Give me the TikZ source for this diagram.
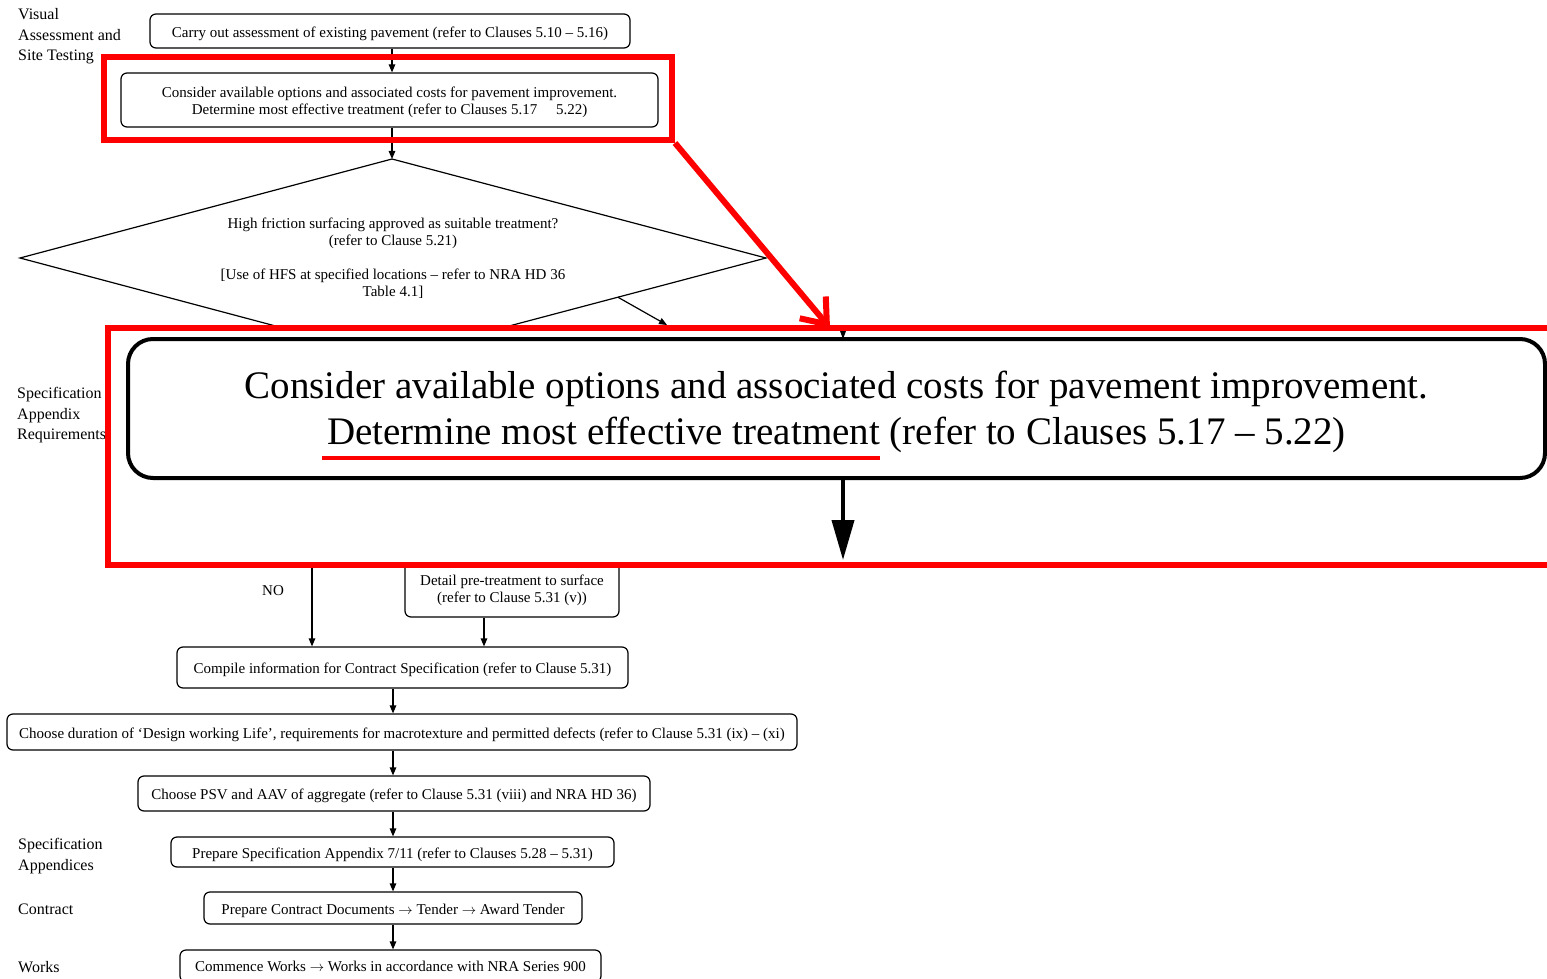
\documentclass[tikz,border=0pt]{standalone}
\usepackage{fontspec}
\setmainfont{Liberation Serif}
\usetikzlibrary{arrows.meta,calc}
\tikzset{
  flowbox/.style={draw, rounded corners=6pt, line width=1.2pt, inner sep=0pt, align=center,
    font=\fontsize{15}{17}\selectfont},
  onelinebox/.style={flowbox, execute at begin node={\rule{0pt}{15.5pt}}},
  plaintext/.style={inner sep=0pt, align=center, font=\fontsize{15}{17}\selectfont},
  sidelabel/.style={anchor=base west, inner sep=0pt, font=\fontsize{16}{20}\selectfont},
  arr/.style={line width=1.2pt, -{Triangle[length=8pt,width=6.5pt]}},
  edge/.style={line width=1.2pt},
  hilite/.style={draw=red, line width=6pt, inner sep=0pt},
  bigbox/.style={draw, rounded corners=25pt, line width=4pt, inner sep=0pt, align=center,
    fill=white, font=\fontsize{39}{46}\selectfont},
  bigarr/.style={line width=4pt, -{Triangle[length=40pt,width=22pt]}}
}
\begin{document}
\begin{tikzpicture}[x=1pt,y=-1pt]
\useasboundingbox (0,0) rectangle (1547,979);
\clip (0,0) rectangle (1547,979);

% ---------- stage labels ----------
\node[sidelabel] (l1) at (18,20) {Visual};
\node[sidelabel] (l2) at (18,41) {Assessment and};
\node[sidelabel] (l3) at (18,61) {Site Testing};
\node[sidelabel] (l4) at (17,398) {Specification};
\node[sidelabel] (l5) at (17,419) {Appendix};
\node[sidelabel] (l6) at (17,439) {Requirements};
\node[sidelabel] (l7) at (18,849) {Specification};
\node[sidelabel] (l8) at (18,870) {Appendices};
\node[sidelabel] (l9) at (18,914) {Contract};
\node[sidelabel] (l10) at (18,972) {Works};

% ---------- flow chart ----------
\coordinate (spine) at (393,0);
\node[onelinebox, minimum width=480, minimum height=34] (assess) at (390,31)
  {Carry out assessment of existing pavement (refer to Clauses 5.10 -- 5.16)};
\node[flowbox, minimum width=537, minimum height=54] (options) at (389.5,100)
  {\rule{0pt}{14.5pt}Consider available options and associated costs for pavement improvement.\\
   Determine most effective treatment (refer to Clauses 5.17 \quad 5.22)};

\coordinate (dT) at (392,159);
\coordinate (dR) at (766,258);
\coordinate (dB) at (392,357);
\coordinate (dL) at (20,258);
\draw[edge] (dT) -- (dR) -- (dB) -- (dL) -- cycle;
\node[plaintext] (question) at (393,258)
  {High friction surfacing approved as suitable treatment?\\
   (refer to Clause 5.21)\\[17pt]
   [Use of HFS at specified locations -- refer to NRA HD 36\\
   Table 4.1]};

\node[flowbox, minimum width=214, minimum height=57] (detail) at (512,588.5)
  {\rule{0pt}{14.5pt}Detail pre-treatment to surface\\(refer to Clause 5.31 (v))};
\node[plaintext] (no) at (273,591) {NO};
\node[onelinebox, minimum width=451, minimum height=41] (compile) at (402.5,667.5)
  {Compile information for Contract Specification (refer to Clause 5.31)};
\node[onelinebox, minimum width=790, minimum height=36] (duration) at (402,732)
  {Choose duration of `Design working Life', requirements for macrotexture and permitted defects (refer to Clause 5.31 (ix) -- (xi)};
\node[onelinebox, minimum width=512, minimum height=35] (psv) at (394,793.5)
  {Choose PSV and AAV of aggregate (refer to Clause 5.31 (viii) and NRA HD 36)};
\node[onelinebox, minimum width=443, minimum height=30] (appx) at (392.5,852)
  {Prepare Specification Appendix 7/11 (refer to Clauses 5.28 -- 5.31)};
\node[onelinebox, minimum width=378, minimum height=32] (contract) at (393,908)
  {Prepare Contract Documents $\rightarrow$ Tender $\rightarrow$ Award Tender};
\node[flowbox, minimum width=421, minimum height=32] (works) at (390.5,966)
  {Commence Works $\rightarrow$ Works in accordance with NRA Series 900};

\draw[arr] (assess.south -| dT) -- (options.north -| dT);
\draw[arr] (options.south -| dT) -- (dT);
\coordinate (yesStart) at ($(dR)!0.396!(dB)$);
\coordinate (yesEnd) at (667,325);
\draw[arr] (yesStart) -- (yesEnd);
\coordinate (noStart) at (312,520);
\draw[arr] (noStart) -- (noStart |- compile.north);
\coordinate (detailX) at (484,0);
\draw[arr] (detail.south -| detailX) -- (compile.north -| detailX);
\draw[arr] (compile.south -| spine) -- (duration.north -| spine);
\draw[arr] (duration.south -| spine) -- (psv.north -| spine);
\draw[arr] (psv.south -| spine) -- (appx.north -| spine);
\draw[arr] (appx.south -| spine) -- (contract.north -| spine);
\draw[arr] (contract.south -| spine) -- (works.north -| spine);

% ---------- magnified call-out ----------
\node[hilite, minimum width=568, minimum height=83] (zoomsrc) at (388,98.5) {};
\node[hilite, fill=white, minimum width=1452, minimum height=237] (zoomview) at (834,446.5) {};
\coordinate (zoomtip) at (830,328);
\draw[red, line width=6pt, -{Straight Barb[length=22pt,width=34pt]}] (zoomsrc.south east) -- (zoomtip);

\coordinate (bigX) at (843,0);
\fill (840,331) -- (846,331) -- (843,339) -- cycle;
\node[bigbox, minimum width=1417, minimum height=139] (bigoptions) at (836.5,408.5)
  {\rule{0pt}{35pt}Consider available options and associated costs for pavement improvement.\\
   Determine most effective treatment (refer to Clauses 5.17 -- 5.22)};
\coordinate (ulA) at (322,458);
\coordinate (ulB) at (880,458);
\draw[red, line width=4pt] (ulA) -- (ulB);
\coordinate (bigEnd) at (843,560);
\draw[bigarr] (bigoptions.south -| bigX) -- (bigEnd);
\end{tikzpicture}
\end{document}
